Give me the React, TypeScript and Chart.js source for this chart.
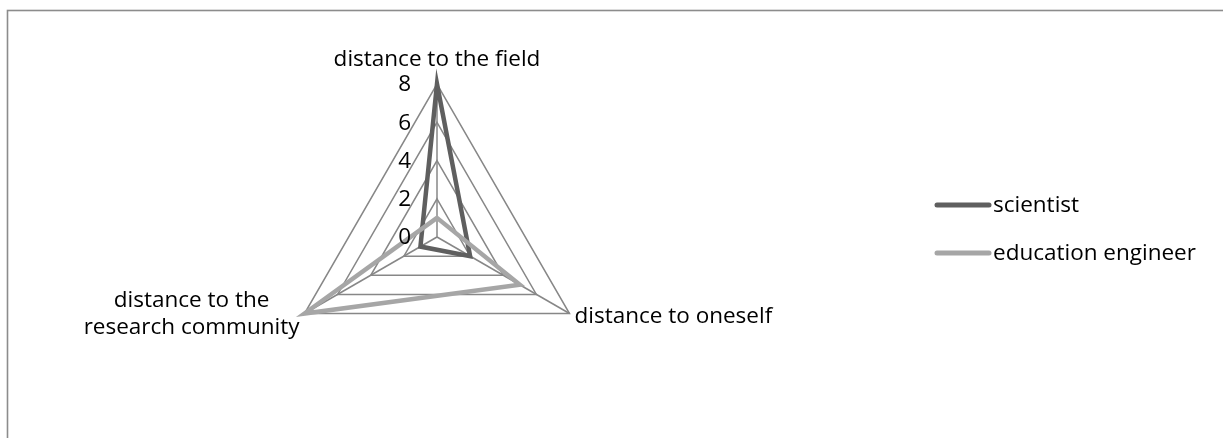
import React, { useEffect, useRef } from "react";
import { Chart, registerables } from "chart.js";

Chart.register(...registerables);

// ---- data ----
const axisLabels: string[][] = [
  ["distance to the field"],
  ["distance to oneself"],
  ["distance to the", "research community"],
];
const seriesNames = ["scientist", "education engineer"];
const scientistValues = [8, 2, 1];
const educationEngineerValues = [1, 5, 8];
const tickValues = [0, 2, 4, 6, 8];

// ---- styles ----
const seriesColors = ["#5f5f5f", "#a6a6a6"];
const gridColor = "#878787";
const FONT_FAMILY = '"Open Sans", sans-serif';
const FONT_SIZE = 22.5;
const FONT = `${FONT_SIZE}px ${FONT_FAMILY}`;

const overlayPlugin = {
  id: "overlay",
  beforeDraw(chart: any) {
    const ctx = chart.ctx;
    ctx.save();
    ctx.fillStyle = "#ffffff";
    ctx.fillRect(0, 0, chart.width, chart.height);
    ctx.strokeStyle = "#8c8c8c";
    ctx.lineWidth = 1.6;
    ctx.strokeRect(7.5, 10.5, chart.width + 20, chart.height + 20);
    ctx.restore();
  },
  afterDraw(chart: any) {
    const ctx = chart.ctx;
    const scale = chart.scales.r;
    ctx.save();
    ctx.font = FONT;
    ctx.fillStyle = "#000000";

    // tick labels along the top axis, right-aligned left of it
    ctx.textAlign = "right";
    ctx.textBaseline = "middle";
    for (const v of tickValues) {
      const p = scale.getPointPositionForValue(0, v);
      ctx.fillText(String(v), p.x - 26, p.y + 1);
    }

    // axis (point) labels
    const max = tickValues[tickValues.length - 1];
    ctx.textBaseline = "alphabetic";
    const p0 = scale.getPointPositionForValue(0, max);
    ctx.textAlign = "center";
    ctx.fillText(axisLabels[0][0], p0.x, p0.y - 18);

    const p1 = scale.getPointPositionForValue(1, max);
    ctx.textAlign = "left";
    ctx.fillText(axisLabels[1][0], p1.x + 5, p1.y + 9);

    const p2 = scale.getPointPositionForValue(2, max);
    const lines = axisLabels[2];
    const w = Math.max(...lines.map((l) => ctx.measureText(l).width));
    ctx.textAlign = "center";
    lines.forEach((l, i) => {
      ctx.fillText(l, p2.x - 5 - w / 2, p2.y - 7 + i * 27);
    });

    // legend
    const legendX = 935;
    const legendYs = [205, 253];
    chart.data.datasets.forEach((ds: any, i: number) => {
      const y = legendYs[i];
      ctx.strokeStyle = ds.borderColor;
      ctx.lineWidth = 5;
      ctx.lineCap = "round";
      ctx.beginPath();
      ctx.moveTo(legendX + 2, y);
      ctx.lineTo(legendX + 54, y);
      ctx.stroke();
      ctx.textAlign = "left";
      ctx.textBaseline = "middle";
      ctx.fillText(ds.label, legendX + 58, y + 1);
    });
    ctx.restore();
  },
};

export default function App() {
  const canvasRef = useRef<HTMLCanvasElement | null>(null);

  useEffect(() => {
    if (!canvasRef.current) return;
    const chart = new Chart(canvasRef.current, {
      type: "radar",
      data: {
        labels: axisLabels,
        datasets: [
          {
            label: seriesNames[0],
            data: scientistValues,
            borderColor: seriesColors[0],
            backgroundColor: "transparent",
            borderWidth: 4.5,
            pointRadius: 0,
            fill: false,
            borderJoinStyle: "miter",
            clip: false,
            order: 1,
          },
          {
            label: seriesNames[1],
            data: educationEngineerValues,
            borderColor: seriesColors[1],
            backgroundColor: "transparent",
            borderWidth: 4.5,
            pointRadius: 0,
            fill: false,
            borderJoinStyle: "miter",
            clip: false,
            order: 0,
          },
        ],
      },
      options: {
        animation: false,
        responsive: true,
        maintainAspectRatio: false,
        layout: { padding: { left: 284, right: 633, top: 84, bottom: 48 } },
        plugins: {
          legend: { display: false },
          tooltip: { enabled: false },
        },
        scales: {
          r: {
            min: 0,
            max: 8,
            ticks: { stepSize: 2, display: false },
            pointLabels: { display: false },
            grid: { circular: false, color: gridColor, lineWidth: 1.5 },
            angleLines: { color: gridColor, lineWidth: 1.5 },
          },
        },
      },
      plugins: [overlayPlugin],
    });
    return () => chart.destroy();
  }, []);

  return (
    <div style={{ position: "fixed", left: 0, top: 0, width: 1223, height: 438 }}>
      <canvas ref={canvasRef} />
    </div>
  );
}
